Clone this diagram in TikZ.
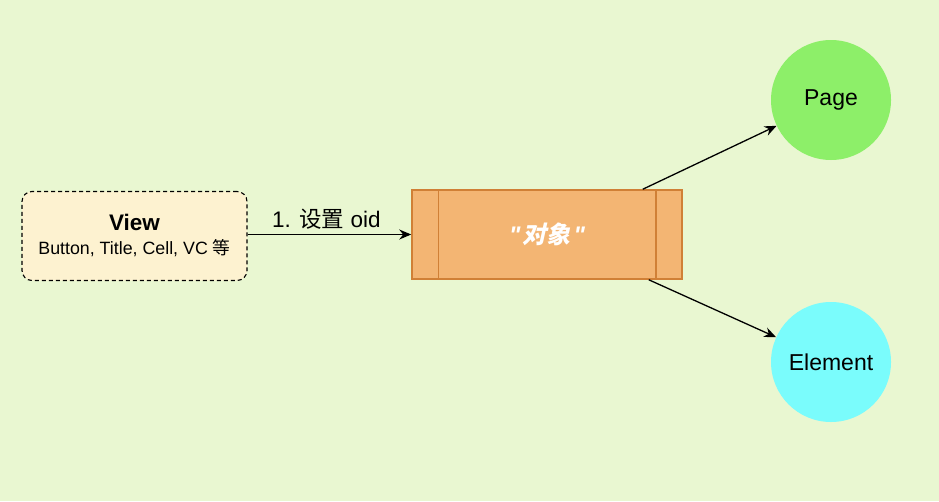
\documentclass[tikz,border=0pt]{standalone}
\usepackage{fontspec}
\setmainfont{Liberation Sans}
\newfontfamily\cjk{Noto Sans CJK SC}
\newfontfamily\cjkbi{Noto Sans CJK SC Bold}[FakeSlant=0.22]
\usepackage{tikz}
\usetikzlibrary{shapes.geometric, arrows.meta}
\definecolor{bgcol}{HTML}{E9F7D1}
\definecolor{viewcol}{HTML}{FDF2D0}
\definecolor{objcol}{HTML}{F3B573}
\definecolor{objline}{HTML}{D08036}
\definecolor{pagecol}{HTML}{8DEF69}
\definecolor{elemcol}{HTML}{7AFCFC}
\tikzstyle{viewbox} = [rectangle, rounded corners=10pt, dash pattern=on 4pt off 3pt, minimum width=225pt, minimum height=89pt, inner sep=0pt, text centered, draw=black, fill=viewcol, line width=1.1pt]
\tikzstyle{objbox} = [rectangle, minimum width=270pt, minimum height=89pt, inner sep=0pt, draw=objline, fill=objcol, line width=1.5pt]
\tikzstyle{objsep} = [draw=objline, line width=1.5pt]
\tikzstyle{target} = [circle, minimum size=120pt, inner sep=0pt, draw=none, font=\fontsize{23}{27}\selectfont]
\tikzstyle{arrow} = [-{Stealth[length=12pt, width=10pt]}, line width=1.3pt, black]

\begin{document}
\begin{tikzpicture}[x=1pt, y=-1pt]
\fill[bgcol] (0,0) rectangle (939,501);
\useasboundingbox (0,0) rectangle (939,501);

\node (view) [viewbox] at (134.5,236) {\begin{tabular}{c}{\fontsize{22.5}{25}\selectfont\bfseries View}\\[6pt]{\fontsize{17.8}{21}\selectfont Button, Title, Cell, VC {\cjk 等}}\end{tabular}};
\node (obj) [objbox] at (547,234.5) {\textcolor{white}{\fontsize{24}{28}\selectfont\bfseries\itshape \textquotedbl\hspace{2pt}{\cjkbi 对象}\hspace{3pt}\textquotedbl}};
\draw [objsep] ([xshift=27pt]obj.north west) -- ([xshift=27pt]obj.south west);
\draw [objsep] ([xshift=-27pt]obj.north east) -- ([xshift=-27pt]obj.south east);
\node (page) [target, fill=pagecol] at (831,100) {Page};
\node (element) [target, fill=elemcol] at (831,362) {Element};

\draw [arrow] (view.east |- obj.west) -- node[above=1pt, xshift=-3pt, font=\fontsize{22.5}{26}\selectfont] {1. {\cjk 设置} oid} (obj);
\draw [arrow] ([xshift=-40pt]obj.north east) -- (page);
\draw [arrow] ([xshift=-34pt]obj.south east) -- (element);

\end{tikzpicture}
\end{document}
